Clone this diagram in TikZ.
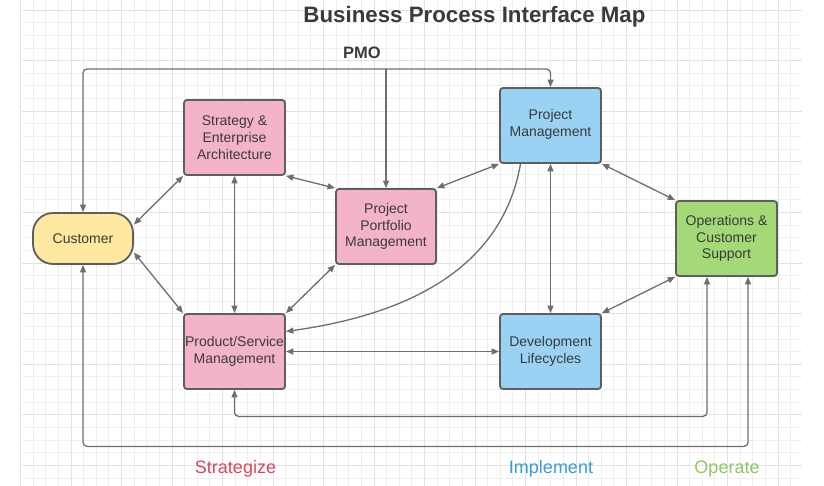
\documentclass[tikz,border=0pt]{standalone}
\usepackage{fontspec}
\setmainfont{Liberation Sans}
\usetikzlibrary{arrows.meta,calc}
\definecolor{pinkfill}{HTML}{F4B4C8}
\definecolor{bluefill}{HTML}{9AD2F3}
\definecolor{greenfill}{HTML}{A3D977}
\definecolor{yellowfill}{HTML}{FFE9A1}
\definecolor{boxline}{HTML}{5E5E5E}
\definecolor{conngray}{HTML}{6E6E6E}
\definecolor{txtgray}{HTML}{3A3A3A}
\definecolor{stratred}{HTML}{D9475C}
\definecolor{implblue}{HTML}{3A9BD8}
\definecolor{opgreen}{HTML}{8CC866}
\definecolor{gridminor}{HTML}{EFEFEF}
\definecolor{gridmajor}{HTML}{E2E2E2}
\tikzset{
  procbox/.style={draw=boxline, line width=1.8pt, rounded corners=3pt, minimum width=101pt,
    minimum height=75pt, inner sep=0pt, align=center, text=txtgray, font=\fontsize{14}{16.7}\selectfont},
  custbox/.style={procbox, fill=yellowfill, minimum width=100pt, minimum height=51pt, rounded corners=20pt},
  conn/.style={draw=conngray, line width=1.3pt},
  phase/.style={font=\fontsize{18}{21}\selectfont},
  >={Triangle[length=7.5pt,width=6pt]}
}
\begin{document}
\begin{tikzpicture}[x=1pt,y=-1pt]
\useasboundingbox (0,0) rectangle (824,486);
% grid
\foreach \i in {0,...,61}{
  \draw[gridminor, line width=0.8pt] ({20.5+12.625*\i},0) -- ({20.5+12.625*\i},486);
}
\foreach \j in {0,...,37}{
  \draw[gridminor, line width=0.8pt] (22,{10+12.65*\j}) -- (802,{10+12.65*\j});
}
\foreach \i in {0,4,...,60}{
  \draw[gridmajor, line width=0.9pt] ({20.5+12.625*\i},0) -- ({20.5+12.625*\i},486);
}
\foreach \j in {0,4,...,36}{
  \draw[gridmajor, line width=0.9pt] (22,{10+12.65*\j}) -- (802,{10+12.65*\j});
}

% title and labels
\node[font=\bfseries\fontsize{22.3}{25}\selectfont, text=txtgray] (title) at (474.5,16.5) {Business Process Interface Map};
\node[font=\bfseries\fontsize{16.5}{19}\selectfont, text=txtgray] (pmolabel) at (362,53) {PMO};
\node[phase, text=stratred] (lstrat) at (235.5,469) {Strategize};
\node[phase, text=implblue] (limpl) at (551,469) {Implement};
\node[phase, text=opgreen] (lop) at (727,469) {Operate};

% nodes
\node[procbox, fill=pinkfill] (SEA) at (234.5,137.5) {Strategy \&\\Enterprise\\Architecture};
\node[procbox, fill=pinkfill, minimum width=100pt] (PPM) at (386,226.5) {Project\\Portfolio\\Management};
\node[procbox, fill=bluefill] (PM) at (550.5,125.5) {Project\\Management\\[-12pt]};
\node[custbox] (cust) at (83,238.5) {Customer};
\node[procbox, fill=greenfill] (Ops) at (726.5,238.5) {Operations \&\\Customer\\Support};
\node[procbox, fill=pinkfill] (PS) at (234.5,351.5) {Product/Service\\Management};
\node[procbox, fill=bluefill] (DL) at (550.5,351.5) {Development\\Lifecycles};

% PMO distribution
\coordinate (pmo) at (386,69);
\draw[conn,<->,rounded corners=4pt] (cust.north) |- (pmo) -| (PM.north);
\draw[conn,->] (pmo) -- (PPM.north);

% connectors
\draw[conn,<->] ([yshift=14pt]cust.east) -- (SEA.south west);
\draw[conn,<->] ([yshift=-14pt]cust.east) -- (PS.north west);
\draw[conn,<->] (SEA.south east) -- (PPM.north west);
\draw[conn,<->] (SEA.south) -- (PS.north);
\draw[conn,<->] (PPM.south west) -- (PS.north east);
\draw[conn,<->] (PPM.north east) -- (PM.south west);
\draw[conn,<->] (PM.south east) -- (Ops.north west);
\draw[conn,<->] (PM.south) -- (DL.north);
\draw[conn,->] ([xshift=-30pt]PM.south) to[out=-100,in=8] ([yshift=20pt]PS.east);
\draw[conn,<->] (PS.east) -- (DL.west);
\draw[conn,<->] (DL.north east) -- (Ops.south west);
\draw[conn,<->,rounded corners=4pt] (PS.south) |- ($(Ops.south)+(-19.5,139.5)$) -- ([xshift=-19.5pt]Ops.south);
\draw[conn,<->,rounded corners=4pt] (cust.south) |- ($(Ops.south)+(21.5,169.5)$) -- ([xshift=21.5pt]Ops.south);
\end{tikzpicture}
\end{document}
